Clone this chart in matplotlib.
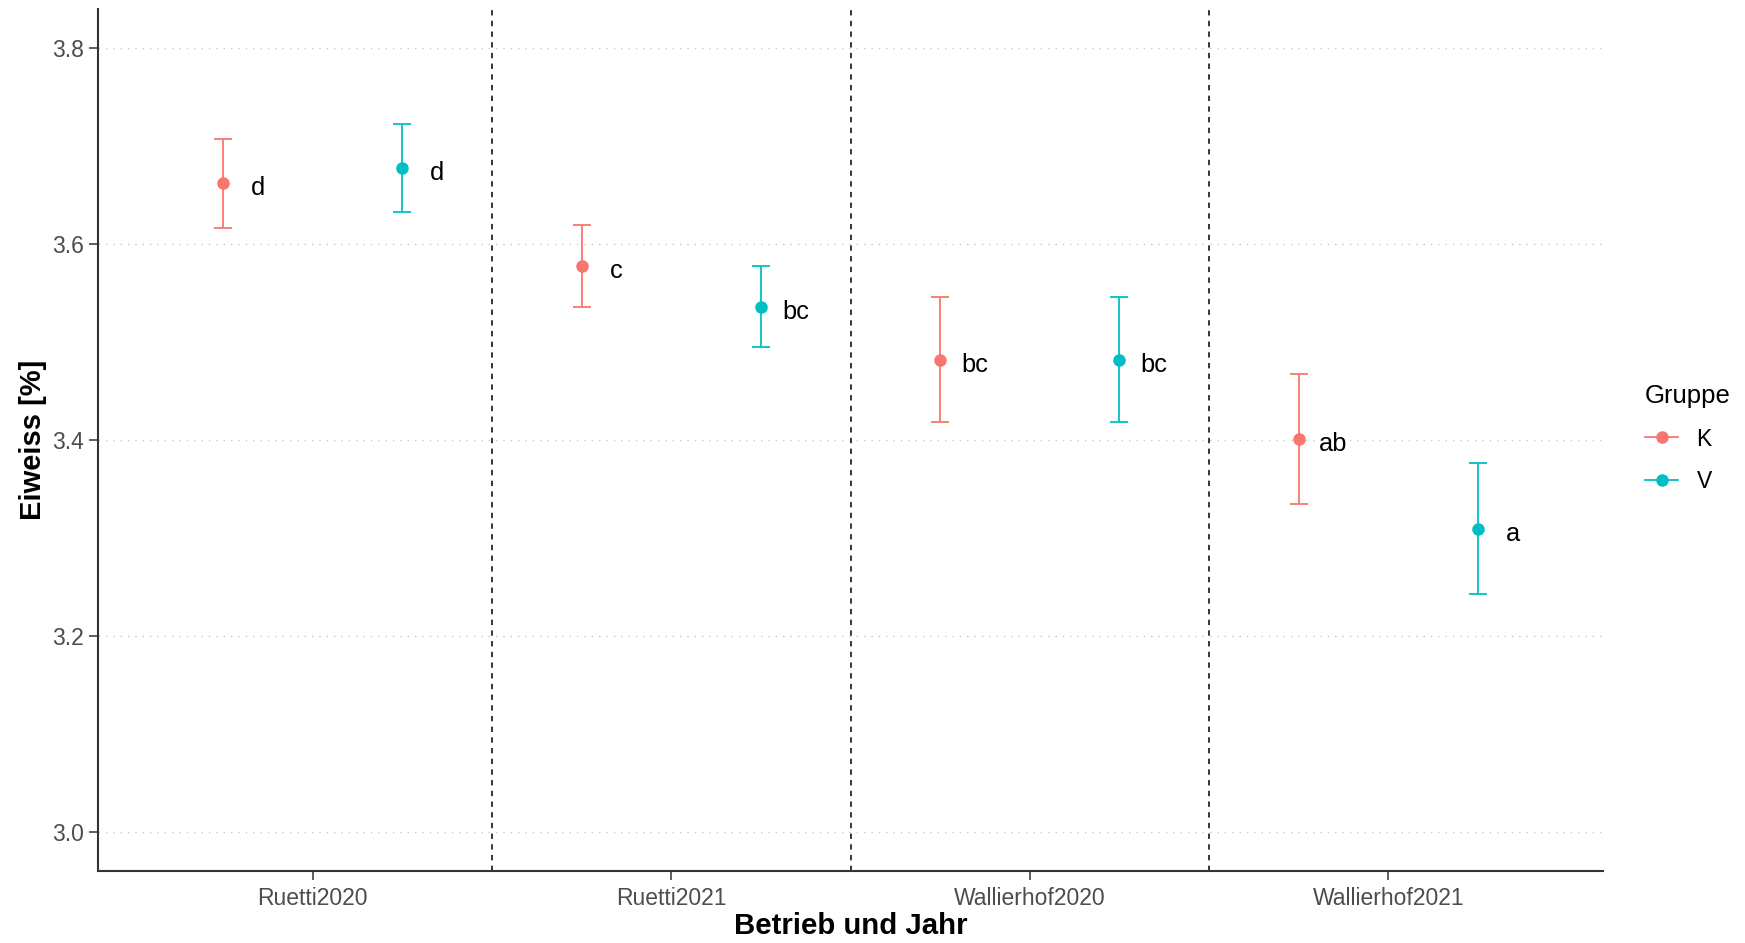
import matplotlib
matplotlib.use('Agg')
import matplotlib.pyplot as plt
from matplotlib.lines import Line2D
import numpy as np

plt.rcParams['font.family'] = ['Liberation Sans', 'DejaVu Sans']

categories = ['Ruetti2020', 'Ruetti2021', 'Wallierhof2020', 'Wallierhof2021']
groups = ['K', 'V']

k_mean = [3.663, 3.578, 3.482, 3.401]
k_low = [3.617, 3.536, 3.418, 3.335]
k_high = [3.708, 3.620, 3.546, 3.467]
k_letters = ['d', 'c', 'bc', 'ab']

v_mean = [3.678, 3.536, 3.482, 3.309]
v_low = [3.633, 3.495, 3.418, 3.243]
v_high = [3.723, 3.578, 3.546, 3.377]
v_letters = ['d', 'bc', 'bc', 'a']

colors = {'K': '#F8766D', 'V': '#00BFC4'}

fig = plt.figure(figsize=(17.45, 9.43), dpi=100)
ax = fig.add_axes([0.0560, 0.0767, 0.9628 - 0.0560 - 0.0440, 0.9901 - 0.0767])

x = np.arange(1, len(categories) + 1)
series = [
    ('K', -0.25, k_mean, k_low, k_high, k_letters),
    ('V', 0.25, v_mean, v_low, v_high, v_letters),
]
for name, dx, mean, low, high, letters in series:
    mean = np.array(mean)
    yerr = [mean - np.array(low), np.array(high) - mean]
    ax.errorbar(x + dx, mean, yerr=yerr, fmt='o', color=colors[name],
                markersize=8, elinewidth=1.3, capsize=6.6, capthick=1.3,
                zorder=3)
    for xi, yi, lab in zip(x + dx, mean, letters):
        ax.annotate(lab, xy=(xi + 0.097, yi), xytext=(0, -8.6),
                    textcoords='offset points', ha='center', va='baseline',
                    fontsize=18.3, color='black')

for xv in [1.5, 2.5, 3.5]:
    ax.axvline(xv, color='black', lw=1.1, linestyle=(0, (3.5, 3.5)), zorder=2)

ax.set_xlim(0.4, 4.6)
ax.set_ylim(2.96, 3.84)
ax.set_xticks(x)
ax.set_xticklabels(categories)
ax.set_yticks([3.0, 3.2, 3.4, 3.6, 3.8])
ax.set_yticklabels(['3.0', '3.2', '3.4', '3.6', '3.8'])

ax.yaxis.grid(True, color='#C8C8C8', lw=1.0, linestyle=(0, (1, 4.3)))
ax.set_axisbelow(True)

for s in ['top', 'right']:
    ax.spines[s].set_visible(False)
for s in ['left', 'bottom']:
    ax.spines[s].set_color('#333333')
    ax.spines[s].set_linewidth(1.5)

ax.tick_params(axis='both', length=6.5, width=1.1, color='#333333',
               labelsize=16.5, labelcolor='#4D4D4D')
ax.tick_params(axis='x', pad=5)
ax.tick_params(axis='y', pad=3.6)

ax.set_xlabel('Betrieb und Jahr', fontsize=21.2, fontweight='bold', va='center')
ax.xaxis.set_label_coords(0.5, -0.0639)
ax.set_ylabel('Eiweiss [%]', fontsize=21, fontweight='bold', va='center')
ax.yaxis.set_label_coords(-0.0428, 0.5)

handles = [Line2D([0], [0], color=colors[g], lw=1.3, marker='o', markersize=8)
           for g in groups]
leg = ax.legend(handles, groups, title='Gruppe', loc='upper left',
                bbox_to_anchor=(0.9427, 0.593), bbox_transform=fig.transFigure,
                frameon=False, fontsize=16.5, title_fontsize=18.5,
                handlelength=1.45, handletextpad=0.8, labelspacing=0.86,
                borderpad=0, borderaxespad=0, alignment='left')

fig.savefig('out.png', dpi=100)
